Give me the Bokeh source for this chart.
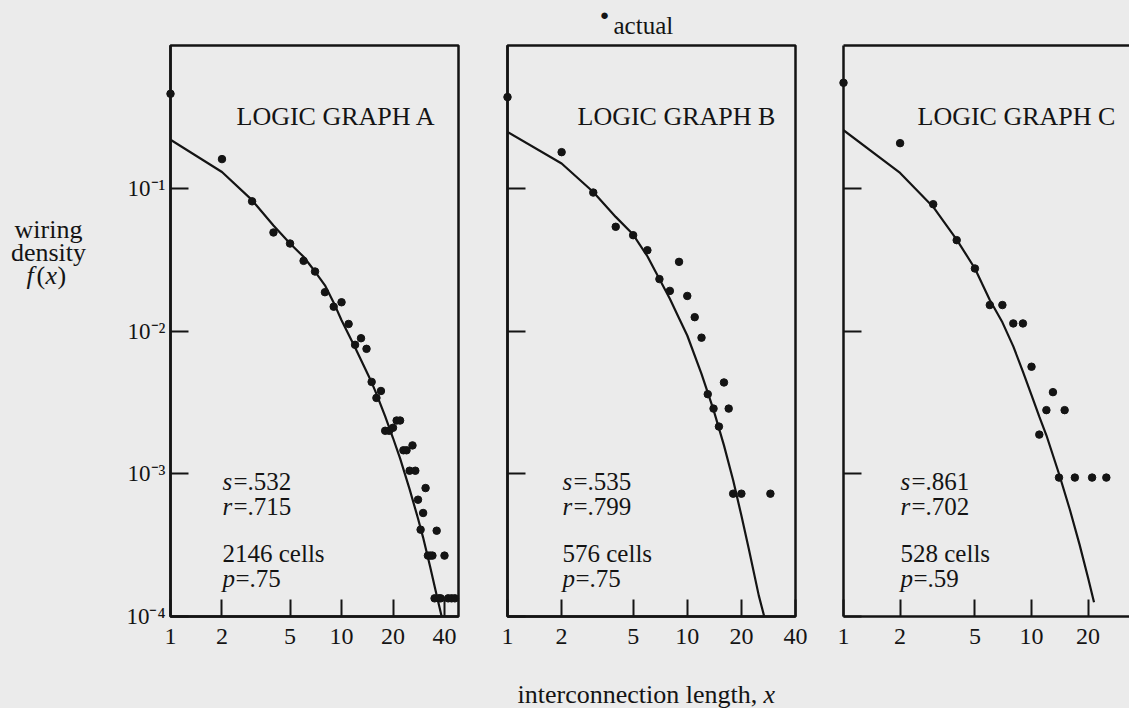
from bokeh.plotting import figure
from bokeh.layouts import row
from bokeh.models import Range1d, FixedTicker, LogAxis, BasicTickFormatter, CustomJSTickFormatter
from bokeh.core.properties import value
from bokeh.embed import file_html
from bokeh.resources import INLINE

# ---------------- data ----------------
a_dot_x = [1, 2, 3, 4, 5, 6, 7, 8, 9, 10, 11, 12, 13, 14, 15, 16, 17, 18, 19, 20, 21, 22, 23, 24, 25, 26, 27,
           28, 29, 30, 31, 32, 33, 34, 35, 36, 37, 38, 40, 42, 44, 46]
a_dot_y = [0.459, 0.16, 0.081, 0.049, 0.041, 0.031, 0.0261, 0.0187, 0.0148, 0.0159, 0.0112, 0.0080, 0.0089,
           0.0075, 0.0044, 0.0034, 0.0038, 0.0020, 0.0020, 0.0021, 0.00236, 0.00236, 0.00146, 0.00146, 0.00105,
           0.00158, 0.00105, 0.000658, 0.000406, 0.000531, 0.000794, 0.000267, 0.000267, 0.000267, 0.000134,
           0.000399, 0.000134, 0.000134, 0.000267, 0.000134, 0.000134, 0.000134]
a_fit_x = [1, 2, 3, 4, 5, 6, 7, 8, 9, 10, 12, 15, 16, 18, 20, 22, 25, 28, 30, 33, 36, 38.5]
a_fit_y = [0.219, 0.130, 0.0825, 0.0548, 0.041, 0.0331, 0.0261, 0.0209, 0.0158, 0.0119, 0.00767, 0.00437,
           0.00363, 0.00252, 0.00178, 0.00128, 0.00078, 0.000486, 0.000357, 0.000222, 0.000141, 0.0001]

b_dot_x = [1, 2, 3, 4, 5, 6, 7, 8, 9, 10, 11, 12, 13, 14, 15, 16, 17, 18, 20, 29]
b_dot_y = [0.435, 0.179, 0.0933, 0.0537, 0.0469, 0.0368, 0.0231, 0.0191, 0.0305, 0.0176, 0.0125, 0.00898,
           0.00361, 0.00286, 0.00214, 0.00436, 0.00286, 0.000725, 0.000725, 0.000725]
b_fit_x = [1, 2, 3, 4, 5, 6, 7, 8, 9, 10, 12, 14, 16, 18, 20, 22, 25, 26.8]
b_fit_y = [0.248, 0.149, 0.0942, 0.063, 0.0474, 0.0334, 0.0231, 0.0168, 0.0123, 0.0093, 0.0050, 0.0028,
           0.00158, 0.0009, 0.00051, 0.000297, 0.00014, 0.0001]

c_dot_x = [1, 2, 3, 4, 5, 6, 7, 8, 9, 10, 11, 12, 13, 14, 15, 17, 21, 25]
c_dot_y = [0.548, 0.207, 0.0773, 0.0433, 0.0274, 0.0152, 0.0152, 0.0113, 0.0113, 0.00562, 0.00188, 0.00279,
           0.00373, 0.00094, 0.00279, 0.00094, 0.00094, 0.00094]
c_fit_x = [1, 2, 3, 4, 5, 6, 7, 8, 9, 10, 11, 12, 14, 16, 18, 20, 21.5]
c_fit_y = [0.255, 0.128, 0.074, 0.0437, 0.0274, 0.0165, 0.0115, 0.0078, 0.0052, 0.00355, 0.00251, 0.00186,
           0.0010, 0.00056, 0.00032, 0.000186, 0.000126]

a_xticks = [1, 2, 5, 10, 20, 40]
b_xticks = [1, 2, 5, 10, 20, 40]
c_xticks = [1, 2, 5, 10, 20]
y_ticks = [1e-1, 1e-2, 1e-3, 1e-4]
y_tick_labels = ["10\u207b\u00b9", "10\u207b\u00b2", "10\u207b\u00b3", "10\u207b\u2074"]

titles = ["LOGIC GRAPH A", "LOGIC GRAPH B", "LOGIC GRAPH C"]
s_vals = ["=.532", "=.535", "=.861"]
r_vals = ["=.715", "=.799", "=.702"]
cells = ["2146 cells", "576 cells", "528 cells"]
p_vals = ["=.75", "=.75", "=.59"]

# ---------------- style ----------------
BG = "#ebebeb"
INK = "#141414"
FONT = "Liberation Serif"
Y0 = 1e-4  # bottom of the value axis (frame corner anchor for texts)


def txt(p, dx, dy, text, size="25px", style="normal", align="left", baseline="alphabetic"):
    """Text anchored at the frame's bottom-left corner, offset in screen pixels."""
    p.text(x=[p.x_range.start], y=[Y0], text=[text], x_offset=dx, y_offset=dy,
           text_font=value(FONT), text_font_size=value(size), text_font_style=style,
           text_color=INK, text_align=align, text_baseline=baseline, level="overlay")


def panel(width, left, right, xmax, xticks, dx, dy, fx, fy, idx, tx, ax, show_ylab):
    p = figure(width=width, height=708, x_axis_type="log", y_axis_type="log",
               x_range=Range1d(1, xmax), y_range=Range1d(Y0, 1),
               output_backend="svg", toolbar_location=None,
               min_border_left=left, min_border_right=right,
               min_border_top=45, min_border_bottom=92)
    p.background_fill_color = BG
    p.border_fill_color = BG
    p.grid.visible = False

    xa = p.below[0]
    xa.ticker = FixedTicker(ticks=xticks)
    xa.formatter = BasicTickFormatter()
    xa.major_tick_in = 17
    xa.major_tick_out = 0
    xa.minor_tick_line_color = None
    xa.major_tick_line_width = 2
    xa.major_tick_line_color = INK
    xa.axis_line_color = INK
    xa.axis_line_width = 2.5
    xa.major_label_text_font = FONT
    xa.major_label_text_font_size = "24px"
    xa.major_label_text_color = INK
    xa.major_label_standoff = 12

    ya = p.left[0]
    ya.ticker = FixedTicker(ticks=y_ticks)
    ya.major_tick_in = 18
    ya.major_tick_out = 0
    ya.minor_tick_line_color = None
    ya.major_tick_line_width = 2
    ya.major_tick_line_color = INK
    ya.axis_line_color = INK
    ya.axis_line_width = 2.5
    if show_ylab:
        ya.major_label_overrides = {t: s for t, s in zip(y_ticks, y_tick_labels)}
        ya.major_label_text_font = FONT
        ya.major_label_text_font_size = "23px"
        ya.major_label_text_color = INK
        ya.major_label_standoff = 5
    else:
        ya.formatter = CustomJSTickFormatter(code="return ''")

    if idx < 2:
        p.outline_line_color = INK
        p.outline_line_width = 2.5
        p.outline_line_alpha = 1.0
    else:
        p.outline_line_color = None
        top = LogAxis(ticker=FixedTicker(ticks=[]), axis_line_color=INK, axis_line_width=2.5,
                      major_tick_line_color=None, minor_tick_line_color=None,
                      formatter=CustomJSTickFormatter(code="return ''"))
        p.add_layout(top, "above")

    p.line(fx, fy, line_color=INK, line_width=2.2)
    p.scatter(dx, dy, size=7.5, color=INK, level="overlay")

    txt(p, tx, -500, titles[idx], size="26px")
    txt(p, ax, -135, "s", style="italic")
    txt(p, ax + 11, -135, s_vals[idx])
    txt(p, ax, -110, "r", style="italic")
    txt(p, ax + 11, -110, r_vals[idx])
    txt(p, ax, -63, cells[idx])
    txt(p, ax, -38, "p", style="italic")
    txt(p, ax + 13, -38, p_vals[idx])
    return p


pA = panel(478, 170, 20, 48.3, a_xticks, a_dot_x, a_dot_y, a_fit_x, a_fit_y, 0, 66, 52, True)
pB = panel(334, 29, 17, 40, b_xticks, b_dot_x, b_dot_y, b_fit_x, b_fit_y, 1, 70, 55, False)
pC = panel(317, 31, 0, 33.2, c_xticks, c_dot_x, c_dot_y, c_fit_x, c_fit_y, 2, 74, 57, False)

# y axis title, left of panel A
txt(pA, -122, -387, "wiring", size="26px", align="center")
txt(pA, -122, -364, "density", size="26px", align="center")
txt(pA, -144, -341, "f", size="26px", style="italic")
txt(pA, -134, -341, "(", size="26px")
txt(pA, -125, -341, "x", size="26px", style="italic")
txt(pA, -113, -341, ")", size="26px")

# legend note above and x axis title below panel B
txt(pB, 97, -602, "\u25cf", size="15px", align="center", baseline="middle")
txt(pB, 106, -591, "actual")
txt(pB, 10, 78, "interconnection length,", size="26px")
txt(pB, 256, 78, "x", size="26px", style="italic")

layout = row(pA, pB, pC, spacing=0, styles={"background-color": BG})
open("out.html", "w").write(file_html(layout, INLINE))
